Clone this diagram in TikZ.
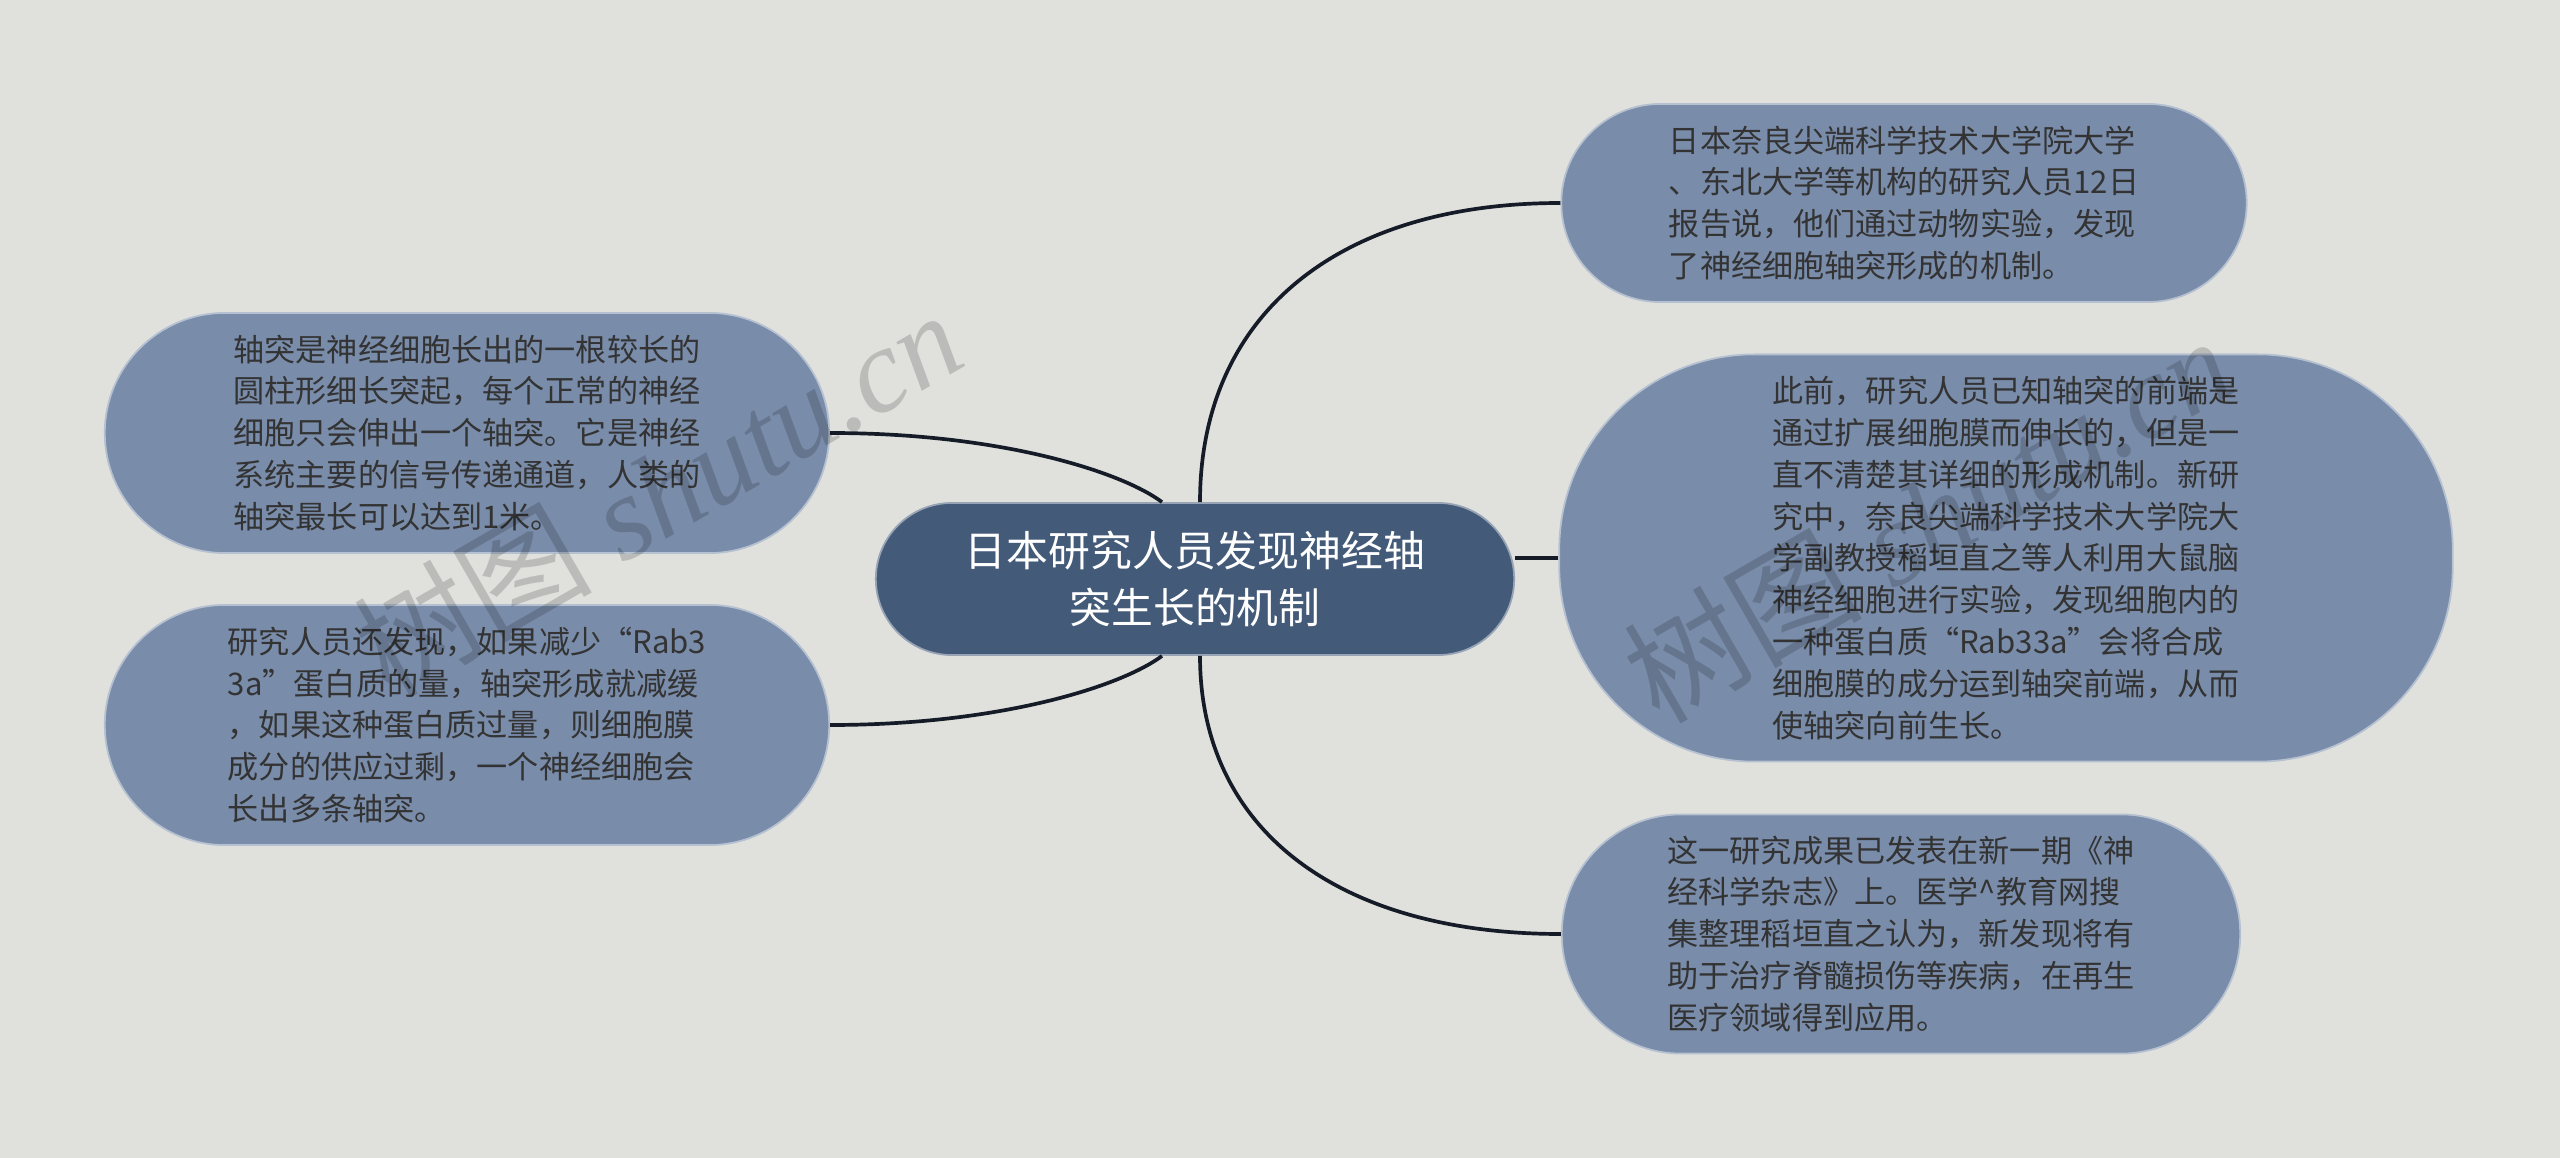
\documentclass[tikz,border=0pt]{standalone}
\usepackage{xcolor}
\usepackage{fontspec}
\usepackage{tikz}
\usetikzlibrary{shapes,positioning}
\newfontfamily\cjkfont{Noto Sans CJK SC}
\newfontfamily\wmserif{Liberation Serif}
\definecolor{bgcol}{HTML}{E0E1DD}
\definecolor{leafcol}{HTML}{798CAA}
\definecolor{rootcol}{HTML}{435A78}
\definecolor{linkcol}{HTML}{151B27}
\definecolor{txtcol}{HTML}{333333}
\newcommand{\leaffont}{\cjkfont\fontsize{8.85}{11.9}\selectfont}
\newcommand{\rootfont}{\cjkfont\fontsize{11.9}{16}\selectfont}
\tikzset{
  leaf/.style={draw=white!45!leafcol, line width=0.5pt, fill=leafcol, text=txtcol, align=left, inner sep=0pt, font=\leaffont},
  rootbox/.style={draw=white!45!rootcol, line width=0.5pt, fill=rootcol, text=white, align=center, inner sep=0pt, font=\rootfont},
  link/.style={draw=linkcol, line width=1.05pt},
  watermark/.style={rotate=30, text=black, text opacity=0.16, inner sep=0pt}
}

\begin{document}
\begin{tikzpicture}[x=0.01cm, y=-0.01cm]
        % canvas
        \fill[bgcol] (0,0) rectangle (2560,1158);
        \useasboundingbox (0,0) rectangle (2560,1158);

        % central topic
        \node[rootbox, minimum width=6.38cm, minimum height=1.52cm, rounded corners=0.76cm] (root) at (1195,579) {日本研究人员发现神经轴\\突生长的机制};

        % right branches
        \node[leaf, minimum width=6.85cm, minimum height=1.98cm, rounded corners=0.99cm] (report) at (1904,203) {日本奈良尖端科学技术大学院大学\\、东北大学等机构的研究人员12日\\报告说，他们通过动物实验，发现\\了神经细胞轴突形成的机制。};
        \node[leaf, minimum width=8.93cm, minimum height=4.07cm, rounded corners=1.95cm] (finding) at (2006,558) {此前，研究人员已知轴突的前端是\\通过扩展细胞膜而伸长的，但是一\\直不清楚其详细的形成机制。新研\\究中，奈良尖端科学技术大学院大\\学副教授稻垣直之等人利用大鼠脑\\神经细胞进行实验，发现细胞内的\\一种蛋白质“Rab33a”会将合成\\细胞膜的成分运到轴突前端，从而\\使轴突向前生长。};
        \node[leaf, minimum width=6.78cm, minimum height=2.39cm, rounded corners=1.19cm] (journal) at (1901,934) {这一研究成果已发表在新一期《神\\经科学杂志》上。医学\textasciicircum{}教育网搜\\集整理稻垣直之认为，新发现将有\\助于治疗脊髓损伤等疾病，在再生\\医疗领域得到应用。};

        % left branches
        \node[leaf, minimum width=7.24cm, minimum height=2.40cm, rounded corners=1.2cm] (axon) at (467,433) {轴突是神经细胞长出的一根较长的\\圆柱形细长突起，每个正常的神经\\细胞只会伸出一个轴突。它是神经\\系统主要的信号传递通道，人类的\\轴突最长可以达到1米。};
        \node[leaf, minimum width=7.24cm, minimum height=2.40cm, rounded corners=1.2cm] (protein) at (467,725) {研究人员还发现，如果减少“Rab3\\3a”蛋白质的量，轴突形成就减缓\\，如果这种蛋白质过量，则细胞膜\\成分的供应过剩，一个神经细胞会\\长出多条轴突。};

        % connectors
        \draw[link] ([xshift=0.05cm]root.north) .. controls +(0,-186) and +(-224,0) .. (report.west);
        \draw[link] (finding.west) -- (finding.west -| root.east);
        \draw[link] ([xshift=0.05cm]root.south) .. controls +(0,173) and +(-224,0) .. (journal.west);
        \draw[link] ([xshift=-0.33cm]root.north) .. controls +(-40,-30) and +(171,0) .. (axon.east);
        \draw[link] ([xshift=-0.33cm]root.south) .. controls +(-40,30) and +(171,0) .. (protein.east);

        % watermarks
        \node[watermark] (wmleft) at (657,492) {\cjkfont\fontsize{34}{34}\selectfont 树图\wmserif\itshape{} shutu.cn};
        \node[watermark] (wmright) at (1927,518) {\cjkfont\fontsize{34}{34}\selectfont 树图\wmserif\itshape{} shutu.cn};
\end{tikzpicture}
\end{document}
